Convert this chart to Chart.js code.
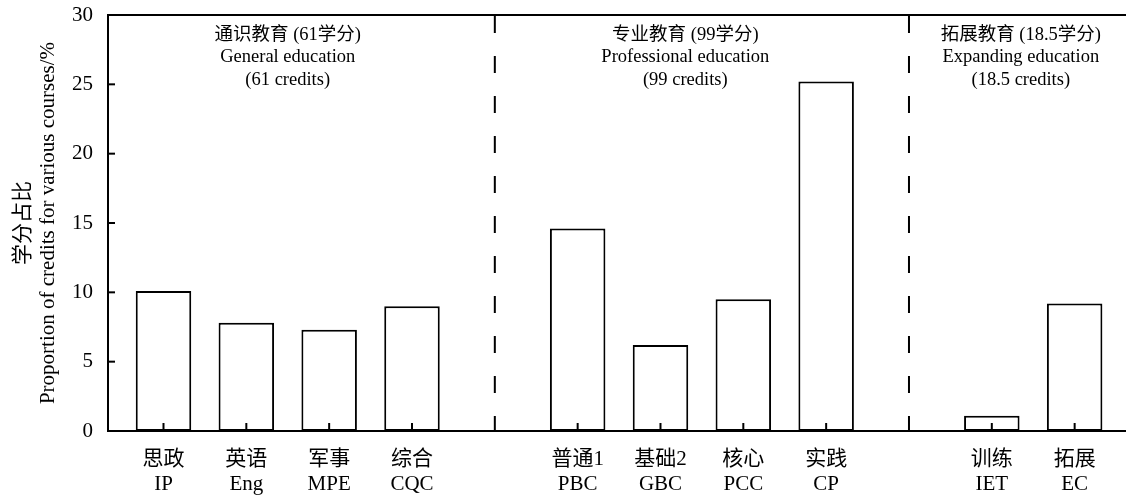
<!DOCTYPE html>
<html>
<head>
<meta charset="utf-8">
<script src="https://cdn.jsdelivr.net/npm/chart.js@4.4.1/dist/chart.umd.min.js"></script>
<style>
  html, body { margin: 0; padding: 0; background: #fff; }
</style>
</head>
<body>
<canvas id="myChart" width="1126" height="495"></canvas>
<script>
// empty strings = gap slots between the three course groups
var namesCn = ["思政", "英语", "军事", "综合", "", "普通1", "基础2", "核心", "实践", "", "训练", "拓展"];
var namesEn = ["IP", "Eng", "MPE", "CQC", "", "PBC", "GBC", "PCC", "CP", "", "IET", "EC"];
var creditShare = [10.1, 7.8, 7.3, 9.0, null, 14.6, 6.2, 9.5, 25.2, null, 1.1, 9.2];
var groupTitles = [
  ["通识教育 (61学分)", "General education", "(61 credits)"],
  ["专业教育 (99学分)", "Professional education", "(99 credits)"],
  ["拓展教育 (18.5学分)", "Expanding education", "(18.5 credits)"]
];
var yMin = 0, yMax = 30, yStep = 5;

var serif = "'Liberation Serif', 'Times New Roman', 'Noto Sans CJK SC', serif";

var barData = [];
creditShare.forEach(function (v, i) {
  if (v !== null) barData.push({x: i, y: v});
});

// frame top line, dashed separators, inward ticks and group headings
var extras = {
  id: "extras",
  afterDraw: function (chart) {
    var ctx = chart.ctx, a = chart.chartArea;
    var xs = chart.scales.x, ys = chart.scales.y;
    ctx.save();
    ctx.strokeStyle = "#000";
    ctx.lineWidth = 2;

    ctx.beginPath();
    ctx.moveTo(a.left, a.top);
    ctx.lineTo(a.right, a.top);
    ctx.stroke();

    ys.ticks.forEach(function (t) {
      var y = ys.getPixelForValue(t.value);
      ctx.beginPath();
      ctx.moveTo(a.left, y);
      ctx.lineTo(a.left + 7, y);
      ctx.stroke();
    });
    xs.ticks.forEach(function (t) {
      var x = xs.getPixelForValue(t.value);
      ctx.beginPath();
      ctx.moveTo(x, a.bottom);
      ctx.lineTo(x, a.bottom - 8);
      ctx.stroke();
    });

    ctx.setLineDash([17, 23]);
    namesEn.forEach(function (n, i) {
      if (n !== "") return;
      var x = xs.getPixelForValue(i);
      ctx.beginPath();
      ctx.moveTo(x, a.top + 1);
      ctx.lineTo(x, a.bottom);
      ctx.stroke();
    });
    ctx.setLineDash([]);

    var centers = [1.5, 6.3, 10.35];
    ctx.fillStyle = "#000";
    ctx.font = "18.5px " + serif;
    ctx.textAlign = "center";
    ctx.textBaseline = "middle";
    groupTitles.forEach(function (lines, g) {
      var x = xs.getPixelForValue(centers[g]);
      lines.forEach(function (s, k) {
        ctx.fillText(s, x, a.top + 20 + k * 22.5);
      });
    });
    ctx.restore();
  }
};

new Chart("myChart", {
  type: "bar",
  data: {
    datasets: [{
      data: barData,
      backgroundColor: "#fff",
      borderColor: "#000",
      borderWidth: 2,
      borderSkipped: false,
      categoryPercentage: 1,
      barPercentage: 0.67
    }]
  },
  options: {
    responsive: false,
    animation: false,
    devicePixelRatio: 1,
    layout: {padding: {top: 15, right: 0, bottom: 0, left: 0}},
    plugins: {
      legend: {display: false},
      tooltip: {enabled: false}
    },
    scales: {
      x: {
        type: "linear",
        min: -0.67,
        max: 11.62,
        offset: false,
        grid: {display: false, drawTicks: false},
        border: {display: true, color: "#000", width: 2},
        afterBuildTicks: function (scale) {
          var t = [];
          namesEn.forEach(function (n, i) { if (n !== "") t.push({value: i}); });
          scale.ticks = t;
        },
        afterFit: function (scale) {
          scale.height = 64;
          scale.paddingLeft = 0;
          scale.paddingRight = 0;
        },
        ticks: {
          autoSkip: false,
          maxRotation: 0,
          padding: 16,
          color: "#000",
          font: {family: serif, size: 21, lineHeight: 1.2},
          callback: function (v) { return [namesCn[v], namesEn[v]]; }
        }
      },
      y: {
        min: yMin,
        max: yMax,
        grid: {display: false, drawTicks: false},
        border: {display: true, color: "#000", width: 2},
        afterFit: function (scale) {
          scale.width = 108;
          scale.paddingTop = 0;
          scale.paddingBottom = 0;
        },
        ticks: {
          stepSize: yStep,
          padding: 15,
          color: "#000",
          font: {family: serif, size: 21}
        },
        title: {
          display: true,
          text: ["学分占比", "Proportion of credits for various courses/%"],
          color: "#000",
          font: {family: serif, size: 21, lineHeight: 1.2},
          padding: {top: 10.5, bottom: 0}
        }
      }
    }
  },
  plugins: [extras]
});
</script>
</body>
</html>
